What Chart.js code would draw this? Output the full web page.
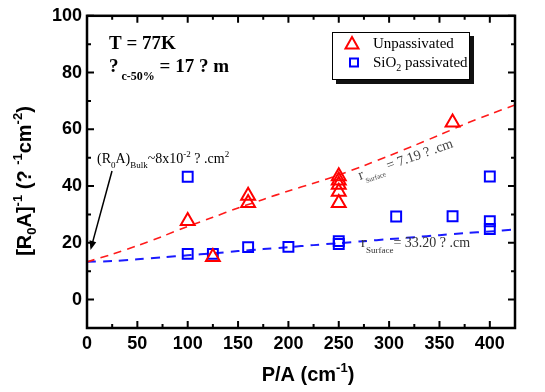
<!DOCTYPE html>
<html>
<head>
<meta charset="utf-8">
<script src="https://cdn.jsdelivr.net/npm/chart.js@4/dist/chart.umd.min.js"></script>
<style>
  html, body { margin: 0; padding: 0; background: #fff; }
</style>
</head>
<body>
<canvas id="mychart" width="545" height="392"></canvas>
<script>
'use strict';

// measured points
const unpassX = [100, 125, 160, 160, 250, 250, 250, 250, 250, 363];
const unpassY = [27.7, 15, 36.6, 34, 43.5, 42, 40.5, 38, 34, 62.4];
const sioX = [100, 100, 125, 160, 200, 250, 250, 307, 363, 400, 400, 400];
const sioY = [43.3, 16.1, 16.1, 18.5, 18.6, 20.6, 19.6, 29.3, 29.4, 43.4, 27.6, 24.9];

// fitted curves
const fitX = [0, 25, 50, 75, 100, 125, 150, 175, 200, 225, 250, 275, 300, 325, 350, 375, 400, 425];
const fitUnpass = [13.3, 16, 19, 22.3, 25.8, 29, 32.3, 35.3, 38.3, 41, 43.9, 47.2, 50.7, 54.3, 58, 61.8, 65.3, 68.6];
const fitSio = [13.3, 13.6, 14.2, 14.9, 15.6, 16.3, 17.1, 17.8, 18.5, 19.2, 19.9, 20.6, 21.3, 22, 22.7, 23.4, 24, 24.7];

const xTicks = [0, 50, 100, 150, 200, 250, 300, 350, 400];
const xMinor = [25, 75, 125, 175, 225, 275, 325, 375];
const yTicks = [0, 20, 40, 60, 80, 100];
const yMinor = [10, 30, 50, 70, 90];

const SANS = "'Liberation Sans', Arial, sans-serif";
const SERIF = "'Liberation Serif', 'Times New Roman', serif";

const pts = (xs, ys) => xs.map((x, i) => ({ x: x, y: ys[i] }));

// draw a run of text pieces: [text, font, dy]
function rich(ctx, x, y, parts, center) {
    let w = 0;
    parts.forEach(p => { ctx.font = p[1]; w += ctx.measureText(p[0]).width; });
    let cx = center ? x - w / 2 : x;
    ctx.textAlign = 'left';
    ctx.textBaseline = 'alphabetic';
    parts.forEach(p => {
        ctx.font = p[1];
        ctx.fillText(p[0], cx, y + (p[2] || 0));
        cx += ctx.measureText(p[0]).width;
    });
}

const decor = {
    id: 'decor',
    afterDraw(chart) {
        const ctx = chart.ctx;
        const a = chart.chartArea;
        const xs = chart.scales.x, ys = chart.scales.y;
        ctx.save();

        // frame + inward ticks
        ctx.strokeStyle = '#000';
        ctx.lineWidth = 2.5;
        ctx.strokeRect(a.left, a.top, a.right - a.left, a.bottom - a.top);
        ctx.lineWidth = 2;
        ctx.beginPath();
        const tx = (v, len) => {
            const p = xs.getPixelForValue(v);
            ctx.moveTo(p, a.bottom); ctx.lineTo(p, a.bottom - len);
            ctx.moveTo(p, a.top); ctx.lineTo(p, a.top + len);
        };
        const ty = (v, len) => {
            const p = ys.getPixelForValue(v);
            ctx.moveTo(a.left, p); ctx.lineTo(a.left + len, p);
            ctx.moveTo(a.right, p); ctx.lineTo(a.right - len, p);
        };
        xTicks.forEach(v => tx(v, 7));
        xMinor.forEach(v => tx(v, 4));
        yTicks.forEach(v => ty(v, 7));
        yMinor.forEach(v => ty(v, 4));
        ctx.stroke();

        // axis titles
        ctx.fillStyle = '#000';
        rich(ctx, 308, 381, [
            ['P/A (cm', 'bold 20px ' + SANS],
            ['-1', 'bold 13px ' + SANS, -9],
            [')', 'bold 20px ' + SANS]
        ], true);
        ctx.save();
        ctx.translate(31, 181);
        ctx.rotate(-Math.PI / 2);
        rich(ctx, 0, 0, [
            ['[R', 'bold 20px ' + SANS],
            ['0', 'bold 13px ' + SANS, 5],
            ['A]', 'bold 20px ' + SANS],
            ['-1', 'bold 13px ' + SANS, -9],
            [' (? ', 'bold 20px ' + SANS],
            ['-1', 'bold 13px ' + SANS, -9],
            ['cm', 'bold 20px ' + SANS],
            ['-2', 'bold 13px ' + SANS, -9],
            [')', 'bold 20px ' + SANS]
        ], true);
        ctx.restore();

        // conditions
        rich(ctx, 109, 49, [['T = 77K', 'bold 19px ' + SERIF]]);
        rich(ctx, 109, 72, [
            ['?', 'bold 19px ' + SERIF],
            [' c-50%', 'bold 12px ' + SERIF, 8],
            [' = 17 ? m', 'bold 19px ' + SERIF]
        ]);

        // legend box with shadow
        ctx.fillStyle = '#111';
        ctx.fillRect(336, 36, 138, 48);
        ctx.fillStyle = '#fff';
        ctx.fillRect(332, 32, 138, 48);
        ctx.strokeStyle = '#000';
        ctx.lineWidth = 1;
        ctx.strokeRect(332.5, 32.5, 137, 47);
        ctx.strokeStyle = '#ff0000';
        ctx.lineWidth = 2;
        ctx.beginPath();
        ctx.moveTo(352, 37); ctx.lineTo(358.5, 48.5); ctx.lineTo(345.5, 48.5); ctx.closePath();
        ctx.stroke();
        ctx.strokeStyle = '#0000ff';
        ctx.strokeRect(350, 58.5, 8, 8);
        ctx.fillStyle = '#000';
        rich(ctx, 373, 48, [['Unpassivated', '15px ' + SERIF]]);
        rich(ctx, 373, 67, [
            ['SiO', '15px ' + SERIF],
            ['2', '10px ' + SERIF, 4],
            [' passivated', '15px ' + SERIF]
        ]);

        // bulk annotation + arrow
        rich(ctx, 97, 163, [
            ['(R', '14px ' + SERIF],
            ['0', '9px ' + SERIF, 5],
            ['A)', '14px ' + SERIF],
            ['Bulk', '9px ' + SERIF, 5],
            ['~8x10', '14px ' + SERIF],
            ['-2', '9px ' + SERIF, -6],
            [' ? .cm', '14px ' + SERIF],
            ['2', '9px ' + SERIF, -6]
        ]);
        const ax = xs.getPixelForValue(3.5), ay = ys.getPixelForValue(17.5);
        const sx = 112, sy = 171;
        const ang = Math.atan2(ay - sy, ax - sx);
        ctx.strokeStyle = '#000';
        ctx.lineWidth = 1.5;
        ctx.beginPath();
        ctx.moveTo(sx, sy);
        ctx.lineTo(ax - 6 * Math.cos(ang), ay - 6 * Math.sin(ang));
        ctx.stroke();
        ctx.beginPath();
        ctx.moveTo(ax, ay);
        ctx.lineTo(ax - 9 * Math.cos(ang) + 3.5 * Math.sin(ang), ay - 9 * Math.sin(ang) - 3.5 * Math.cos(ang));
        ctx.lineTo(ax - 9 * Math.cos(ang) - 3.5 * Math.sin(ang), ay - 9 * Math.sin(ang) + 3.5 * Math.cos(ang));
        ctx.closePath();
        ctx.fill();

        // fit labels
        ctx.fillStyle = '#444';
        ctx.save();
        ctx.translate(360, 180);
        ctx.rotate(-19.5 * Math.PI / 180);
        rich(ctx, 0, 0, [
            ['r', '15px ' + SERIF],
            ['Surface', '7px ' + SERIF, 5],
            [' = 7.19 ? .cm', '14px ' + SERIF]
        ]);
        ctx.restore();
        ctx.fillStyle = '#333';
        rich(ctx, 361, 247, [
            ['r', '15px ' + SERIF],
            ['Surface', '9px ' + SERIF, 6],
            ['= 33.20 ? .cm', '14px ' + SERIF]
        ]);

        ctx.restore();
    }
};

const tickFont = { family: SANS, weight: 'bold', size: 18 };

new Chart(document.getElementById('mychart'), {
    type: 'scatter',
    data: {
        datasets: [{
            label: 'Unpassivated',
            data: pts(unpassX, unpassY),
            pointStyle: 'triangle',
            pointRadius: 8,
            borderColor: '#ff0000',
            backgroundColor: 'rgba(0,0,0,0)',
            borderWidth: 2,
        }, {
            label: 'SiO2 passivated',
            data: pts(sioX, sioY),
            pointStyle: 'rect',
            pointRadius: 7,
            borderColor: '#0000ff',
            backgroundColor: 'rgba(0,0,0,0)',
            borderWidth: 2,
        }, {
            label: 'fit unpassivated',
            type: 'line',
            data: pts(fitX, fitUnpass),
            borderColor: '#ff1a1a',
            borderWidth: 1.6,
            borderDash: [8, 6],
            pointRadius: 0,
            tension: 0.3,
        }, {
            label: 'fit SiO2',
            type: 'line',
            data: pts(fitX, fitSio),
            borderColor: '#1a1aff',
            borderWidth: 2,
            borderDash: [9, 7],
            pointRadius: 0,
            tension: 0.3,
        }],
    },
    options: {
        responsive: false,
        animation: false,
        layout: { padding: { left: 0, right: 30, top: 9, bottom: 0 } },
        plugins: { legend: { display: false }, tooltip: { enabled: false } },
        scales: {
            x: {
                type: 'linear', min: 0, max: 425,
                afterBuildTicks: s => { s.ticks = xTicks.map(v => ({ value: v })); },
                afterFit: s => { s.height = 64; },
                grid: { display: false, drawTicks: false },
                border: { display: false },
                ticks: { font: tickFont, color: '#000', padding: 5, maxRotation: 0, autoSkip: false },
            },
            y: {
                type: 'linear', min: -10, max: 100,
                afterBuildTicks: s => { s.ticks = yTicks.map(v => ({ value: v })); },
                afterFit: s => { s.width = 87; },
                grid: { display: false, drawTicks: false },
                border: { display: false },
                ticks: { font: tickFont, color: '#000', padding: 5, autoSkip: false },
            },
        },
    },
    plugins: [decor],
});
</script>
</body>
</html>
